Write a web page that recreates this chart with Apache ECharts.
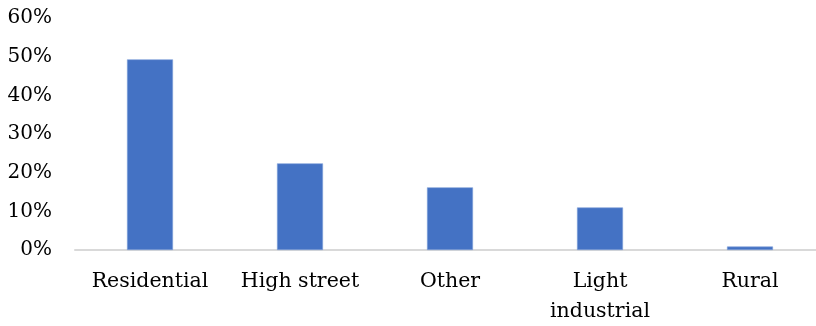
<!DOCTYPE html>
<html>
<head>
<meta charset="utf-8">
<script src="https://cdn.jsdelivr.net/npm/echarts@6/dist/echarts.min.js"></script>
<style>
  html, body { margin: 0; padding: 0; background: #fff; }
</style>
</head>
<body>
<div id="main" style="width:816px;height:326px;"></div>
<script>
// data
const categories = ['Residential', 'High street', 'Other', 'Light\nindustrial', 'Rural'];
const shares = [49.3, 22.4, 16.2, 11.0, 0.9];   // percent

const chart = echarts.init(document.getElementById('main'));
const font = 'DejaVu Serif';

chart.setOption({
  animation: false,
  grid: { left: 75, top: 18, width: 750, bottom: 76, containLabel: false, outerBoundsMode: 'none' },
  xAxis: {
    type: 'category',
    data: categories,
    axisLine: { lineStyle: { color: '#d9d9d9', width: 2 } },
    axisTick: { show: false },
    axisLabel: {
      color: '#000',
      fontFamily: font,
      fontSize: 20.5,
      lineHeight: 30,
      margin: 17,
      interval: 0
    }
  },
  yAxis: {
    type: 'value',
    min: 0,
    max: 60,
    interval: 10,
    splitLine: { show: false },
    axisLine: { show: false },
    axisTick: { show: false },
    axisLabel: {
      formatter: '{value}%',
      color: '#000',
      fontFamily: font,
      fontSize: 20,
      margin: 23
    }
  },
  series: [{
    type: 'bar',
    data: shares,
    barWidth: 46,
    itemStyle: { color: '#4472c4', borderColor: '#7f9fd8', borderWidth: 0.6 }
  }]
});
</script>
</body>
</html>
